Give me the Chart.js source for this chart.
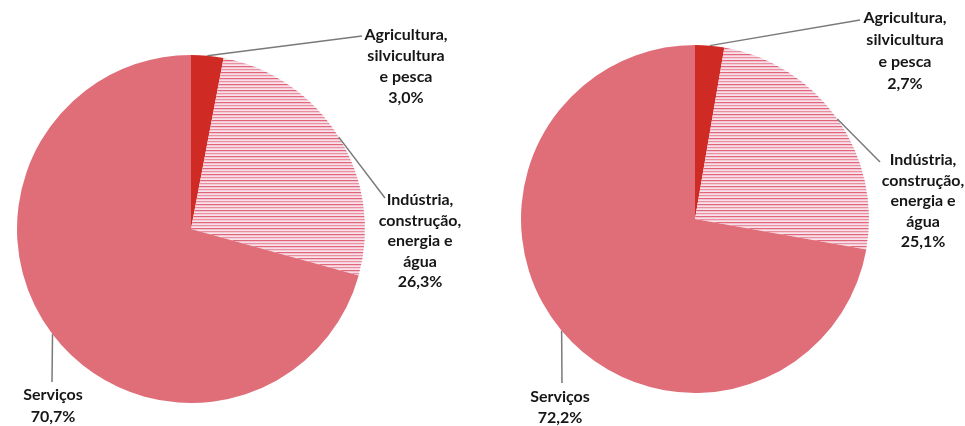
<!DOCTYPE html>
<html>
<head>
<meta charset="utf-8">
<script src="https://cdn.jsdelivr.net/npm/chart.js@4"></script>
<style>
  html, body { margin: 0; padding: 0; background: #ffffff; }
  #wrap { position: relative; width: 965px; height: 426px; overflow: hidden; }
  canvas { position: absolute; top: 0; }
</style>
</head>
<body>
<div id="wrap">
  <canvas id="pieLeft" width="482" height="426" style="left:0"></canvas>
  <canvas id="pieRight" width="483" height="426" style="left:482px"></canvas>
</div>
<script>
// sectors, in drawing order (clockwise from 12 o'clock)
const categories = [
  'Agricultura, silvicultura e pesca',
  'Indústria, construção, energia e água',
  'Serviços'
];
// wrapped label lines as printed beside each slice
const labelLines = [
  ['Agricultura,', 'silvicultura', 'e pesca'],
  ['Indústria,', 'construção,', 'energia e', 'água'],
  ['Serviços']
];
const valuesLeft = [3.0, 26.3, 70.7];
const valuesRight = [2.7, 25.1, 72.2];

// horizontal striped fill used for the industry slice
function stripePattern() {
  const rows = ['#e2667a', '#f2c3d0', '#f8dfe7', '#ea8ea1', '#f4cdd8', '#f9e4eb'];
  const c = document.createElement('canvas');
  c.width = 4;
  c.height = rows.length;
  const g = c.getContext('2d');
  rows.forEach((col, i) => {
    g.fillStyle = col;
    g.fillRect(0, i, 4, 1);
  });
  return g.createPattern(c, 'repeat');
}

const fmtPct = v => v.toFixed(1).replace('.', ',') + '%';

// leader line + multi-line label for every slice
const calloutPlugin = {
  id: 'callouts',
  afterDraw(chart, args, opts) {
    const ctx = chart.ctx;
    const meta = chart.getDatasetMeta(0);
    const values = chart.data.datasets[0].data;
    ctx.save();
    meta.data.forEach((arc, i) => {
      const p = opts.positions[i];
      const mid = (arc.startAngle + arc.endAngle) / 2;
      const sx = arc.x + Math.cos(mid) * arc.outerRadius;
      const sy = arc.y + Math.sin(mid) * arc.outerRadius;
      ctx.strokeStyle = '#7a7a7a';
      ctx.lineWidth = 1.5;
      ctx.beginPath();
      ctx.moveTo(sx, sy);
      ctx.lineTo(p.lx, p.ly);
      ctx.stroke();

      const lines = labelLines[i].concat([fmtPct(values[i])]);
      ctx.fillStyle = '#161616';
      ctx.font = 'bold 16px Lato, "Open Sans", sans-serif';
      ctx.textAlign = 'center';
      ctx.textBaseline = 'middle';
      lines.forEach((t, k) => ctx.fillText(t, p.x, p.y + k * p.lh));
    });
    ctx.restore();
  }
};

function makePie(canvasId, values, padding, positions) {
  const canvas = document.getElementById(canvasId);
  return new Chart(canvas, {
    type: 'pie',
    data: {
      labels: categories,
      datasets: [{
        data: values,
        backgroundColor: ['#cf2a24', stripePattern(), '#df6e79'],
        borderWidth: 0
      }]
    },
    options: {
      responsive: false,
      animation: false,
      layout: { padding },
      plugins: {
        legend: { display: false },
        tooltip: { enabled: false },
        callouts: { positions }
      }
    },
    plugins: [calloutPlugin]
  });
}

makePie('pieLeft', valuesLeft,
  { left: 17, top: 55, right: 117, bottom: 23 },
  [
    { x: 406, y: 35, lh: 21, lx: 362, ly: 36 },
    { x: 420, y: 200, lh: 20.5, lx: 385, ly: 198 },
    { x: 53, y: 395, lh: 22, lx: 52, ly: 382 }
  ]);

makePie('pieRight', valuesRight,
  { left: 39, top: 45, right: 96, bottom: 33 },
  [
    { x: 423, y: 18, lh: 22, lx: 378, ly: 20 },
    { x: 441, y: 160, lh: 20.5, lx: 398, ly: 162 },
    { x: 78, y: 397, lh: 21, lx: 80, ly: 383 }
  ]);
</script>
</body>
</html>
